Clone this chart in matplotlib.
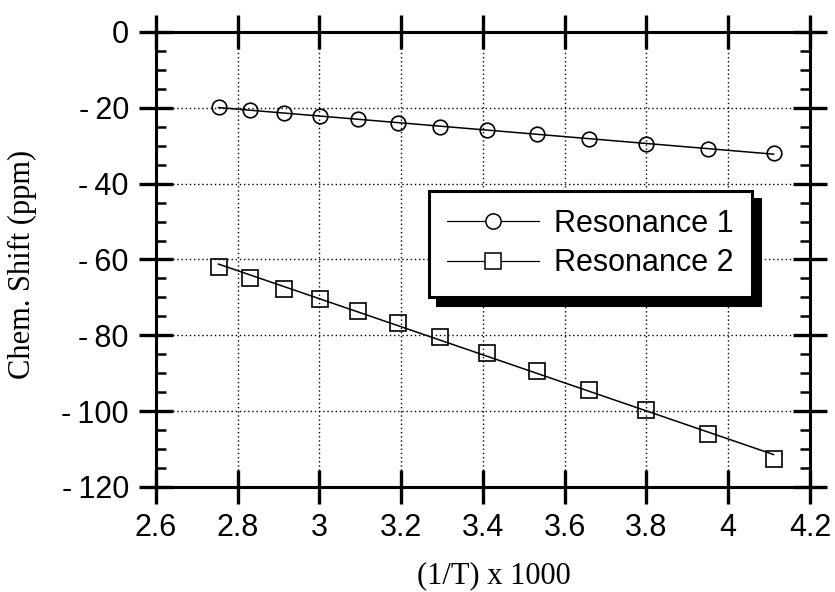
import numpy as np
import matplotlib
matplotlib.use("Agg")
import matplotlib.pyplot as plt
from matplotlib.lines import Line2D
from matplotlib.ticker import FixedLocator, FixedFormatter, MultipleLocator

# Inverse temperature (1000/T) and chemical shifts of the two resonances
inv_temp = [2.753, 2.830, 2.914, 3.001, 3.094, 3.193, 3.296,
            3.410, 3.531, 3.660, 3.799, 3.950, 4.111]
shift_res1 = [-19.7, -20.6, -21.4, -22.2, -23.0, -24.1, -25.0,
              -25.9, -26.9, -28.2, -29.5, -30.9, -31.9]
shift_res2 = [-62.1, -65.0, -67.7, -70.3, -73.5, -76.7, -80.4,
              -84.6, -89.4, -94.4, -99.7, -106.1, -112.7]
series_names = ["Resonance 1", "Resonance 2"]

x_ticks = [2.6, 2.8, 3.0, 3.2, 3.4, 3.6, 3.8, 4.0, 4.2]
x_tick_labels = ["2.6", "2.8", "3", "3.2", "3.4", "3.6", "3.8", "4", "4.2"]
y_ticks = [0, -20, -40, -60, -80, -100, -120]
y_tick_labels = ["0", "-20", "-40", "-60", "-80", "-100", "-120"]

SANS = "Liberation Sans"
SERIF = "Liberation Serif"

fig = plt.figure(figsize=(8.35, 5.92), dpi=100)
ax = fig.add_axes([0.1868, 0.1774, 0.7832, 0.7686])

markers = ["o", "s"]
msizes = [10.5, 11.5]
x = np.array(inv_temp)
for ys, mk, ms in zip([shift_res1, shift_res2], markers, msizes):
    y = np.array(ys)
    ax.plot(x, y, ls="none", marker=mk, ms=ms, mfc="none", mec="black",
            mew=1.2, zorder=3)
    # least-squares straight line through each series
    coef = np.polyfit(x, y, 1)
    xs = np.array([x[0], x[-1]])
    ax.plot(xs, np.polyval(coef, xs), color="black", lw=1.1, zorder=3)

ax.set_xlim(2.6, 4.2)
ax.set_ylim(-120, 0)

ax.xaxis.set_major_locator(FixedLocator(x_ticks))
ax.xaxis.set_major_formatter(FixedFormatter(x_tick_labels))
ax.yaxis.set_major_locator(FixedLocator(y_ticks))
ax.yaxis.set_major_formatter(
    FixedFormatter([s.replace("-", "-\u2009") for s in y_tick_labels]))
ax.yaxis.set_minor_locator(MultipleLocator(5))

ax.tick_params(which="major", direction="inout", length=25, width=2.4,
               top=True, right=True, bottom=True, left=True, labelsize=22)
ax.tick_params(which="minor", direction="in", length=7, width=1.8,
               left=True, right=True, top=False, bottom=False)
ax.tick_params(axis="x", which="major", pad=6)
ax.tick_params(axis="y", which="major", pad=7)
for lbl in ax.get_xticklabels() + ax.get_yticklabels():
    lbl.set_fontfamily(SANS)

for sp in ax.spines.values():
    sp.set_linewidth(2.2)

ax.grid(True, which="major", color="black", linestyle=(0, (1, 2)),
        linewidth=1.0)
ax.set_axisbelow(True)

ax.set_xlabel("(1/T) x 1000", fontfamily=SERIF, fontsize=22)
ax.set_ylabel("Chem. Shift (ppm)", fontfamily=SERIF, fontsize=22)
ax.xaxis.set_label_coords(0.517, -0.163)
ax.yaxis.set_label_coords(-0.182, 0.49)

handles = [Line2D([], [], color="black", lw=0.9, marker=mk, ms=ms,
                  mfc="white", mec="black", mew=1.1)
           for mk, ms in zip(markers, [11, 11])]
leg = ax.legend(handles, series_names, loc="upper left",
                bbox_to_anchor=(0.417, 0.651), borderaxespad=0,
                prop={"family": SANS, "size": 22}, frameon=True,
                fancybox=False, edgecolor="black", facecolor="white",
                framealpha=1, handlelength=3.0, handletextpad=0.5,
                borderpad=0.6, labelspacing=0.3,
                shadow={"color": "black", "alpha": 1, "ox": 6, "oy": -6})
leg.get_frame().set_linewidth(2.2)
leg.set_zorder(5)

fig.savefig("out.png", dpi=100)
